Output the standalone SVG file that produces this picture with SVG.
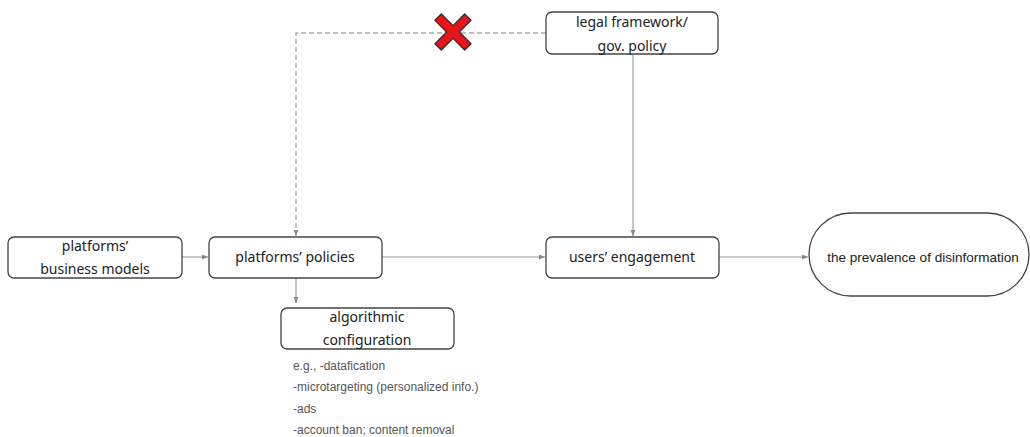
<svg xmlns="http://www.w3.org/2000/svg" width="1030" height="437" viewBox="0 0 1030 437">
<style>
.box{fill:#fff;stroke:#444;stroke-width:1.3}
.lbl{font-family:"Noto Sans","Open Sans",sans-serif;font-size:14px;fill:#222;text-anchor:middle}
.note{font-family:"Liberation Sans",Arial,sans-serif;font-size:12px;fill:#555}
.con{fill:none;stroke:#999;stroke-width:1.1}
.dash{fill:none;stroke:#aaa;stroke-width:1.4;stroke-dasharray:5,3}
</style>
<defs>
<marker id="ah" viewBox="0 0 10 10" refX="10" refY="5" markerWidth="6" markerHeight="6" orient="auto" markerUnits="userSpaceOnUse">
<path d="M0,1 L10,5 L0,9 z" fill="#888"/>
</marker>
</defs>
<rect width="1030" height="437" fill="#fff"/>
<g id="connectors">
<path class="dash" d="M546,33 H296 V236" marker-end="url(#ah)"/>
<path class="con" d="M633,54 V236" marker-end="url(#ah)"/>
<path class="con" d="M182,257 H208" marker-end="url(#ah)"/>
<path class="con" d="M382,257 H545" marker-end="url(#ah)"/>
<path class="con" d="M719,257 H808" marker-end="url(#ah)"/>
<path class="con" d="M296,278 V303" marker-end="url(#ah)"/>
</g>
<g id="cross">
<g transform="translate(453,32) rotate(45)">
<path d="M-4.5,-21 H4.5 V-4.5 H21 V4.5 H4.5 V21 H-4.5 V4.5 H-21 V-4.5 H-4.5 Z" fill="#e8141c" stroke="#3a2a2a" stroke-width="1.3"/>
</g>
</g>
<g id="legal">
<rect class="box" x="546" y="12" width="172" height="42" rx="6"/>
<text class="lbl" x="632" y="27">legal framework/</text>
<text class="lbl" x="632" y="51">gov. policy</text>
</g>
<g id="business">
<rect class="box" x="8" y="237" width="174" height="41" rx="6"/>
<text class="lbl" x="95" y="251">platforms’</text>
<text class="lbl" x="95" y="274">business models</text>
</g>
<g id="policies">
<rect class="box" x="209" y="237" width="173" height="41" rx="6"/>
<text class="lbl" x="295" y="262">platforms’ policies</text>
</g>
<g id="engagement">
<rect class="box" x="546" y="237" width="173" height="41" rx="6"/>
<text class="lbl" x="632" y="262">users’ engagement</text>
</g>
<g id="prevalence">
<rect class="box" x="809" y="213" width="220" height="83" rx="42"/>
<text x="923" y="262" font-family="Liberation Sans, Arial, sans-serif" font-size="13.5" fill="#222" text-anchor="middle">the prevalence of disinformation</text>
</g>
<g id="algorithmic">
<rect class="box" x="281" y="308" width="173" height="41" rx="6"/>
<text class="lbl" x="367" y="322">algorithmic</text>
<text class="lbl" x="367" y="345">configuration</text>
</g>
<g id="notes">
<text class="note" x="293" y="370">e.g., -datafication</text>
<text class="note" x="293" y="391">-microtargeting (personalized info.)</text>
<text class="note" x="293" y="413">-ads</text>
<text class="note" x="293" y="434">-account ban; content removal</text>
</g>
</svg>
